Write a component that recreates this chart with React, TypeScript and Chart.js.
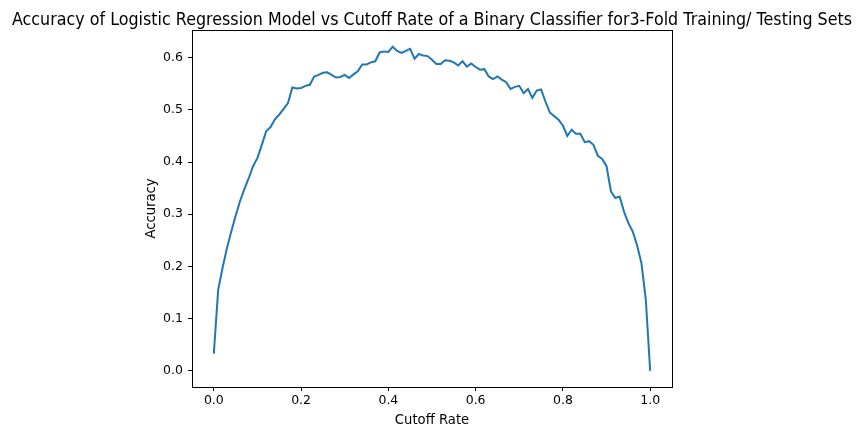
import React, { useEffect, useRef } from "react";
import { Chart, registerables } from "chart.js";
Chart.register(...registerables);

const cutoffRates = [
  0.0, 0.01, 0.02, 0.03, 0.04, 0.05, 0.06, 0.07, 0.08, 0.09,
  0.1, 0.11, 0.12, 0.13, 0.14, 0.15, 0.16, 0.17, 0.18, 0.19,
  0.2, 0.21, 0.22, 0.23, 0.24, 0.25, 0.26, 0.27, 0.28, 0.29,
  0.3, 0.31, 0.32, 0.33, 0.34, 0.35, 0.36, 0.37, 0.38, 0.39,
  0.4, 0.41, 0.42, 0.43, 0.44, 0.45, 0.46, 0.47, 0.48, 0.49,
  0.5, 0.51, 0.52, 0.53, 0.54, 0.55, 0.56, 0.57, 0.58, 0.59,
  0.6, 0.61, 0.62, 0.63, 0.64, 0.65, 0.66, 0.67, 0.68, 0.69,
  0.7, 0.71, 0.72, 0.73, 0.74, 0.75, 0.76, 0.77, 0.78, 0.79,
  0.8, 0.81, 0.82, 0.83, 0.84, 0.85, 0.86, 0.87, 0.88, 0.89,
  0.9, 0.91, 0.92, 0.93, 0.94, 0.95, 0.96, 0.97, 0.98, 0.99, 1.0,
];

const accuracy = [
  0.033, 0.155, 0.197, 0.235, 0.267, 0.297, 0.325, 0.348, 0.369, 0.392,
  0.408, 0.433, 0.459, 0.467, 0.482, 0.491, 0.502, 0.513, 0.543, 0.541,
  0.542, 0.546, 0.548, 0.564, 0.567, 0.571, 0.572, 0.567, 0.562, 0.563,
  0.567, 0.561, 0.568, 0.574, 0.587, 0.587, 0.591, 0.593, 0.610, 0.612,
  0.611, 0.621, 0.613, 0.609, 0.613, 0.617, 0.598, 0.607, 0.604, 0.603,
  0.596, 0.588, 0.588, 0.595, 0.594, 0.591, 0.585, 0.593, 0.583, 0.589,
  0.582, 0.577, 0.578, 0.564, 0.559, 0.564, 0.558, 0.553, 0.540, 0.544,
  0.546, 0.532, 0.540, 0.523, 0.537, 0.539, 0.516, 0.495, 0.488, 0.481,
  0.470, 0.450, 0.462, 0.454, 0.454, 0.438, 0.440, 0.433, 0.412, 0.406,
  0.392, 0.344, 0.331, 0.334, 0.305, 0.283, 0.267, 0.240, 0.206, 0.136, 0.0,
];

const xTicks = [0, 0.2, 0.4, 0.6, 0.8, 1.0];
const yTicks = [0, 0.1, 0.2, 0.3, 0.4, 0.5, 0.6];

const titleText =
  "Accuracy of Logistic Regression Model vs Cutoff Rate of a Binary Classifier for3-Fold Training/ Testing Sets";
const xLabel = "Cutoff Rate";
const yLabel = "Accuracy";

const FONT = "'DejaVu Sans', sans-serif";

const textPlugin = {
  id: "mplText",
  afterDraw(chart: any) {
    const { ctx, chartArea } = chart;
    const { left, right, top, bottom } = chartArea;
    ctx.save();
    ctx.strokeStyle = "#000";
    ctx.lineWidth = 1;
    ctx.strokeRect(Math.round(left) + 0.5, Math.round(top) + 0.5, Math.round(right - left), Math.round(bottom - top));
    ctx.fillStyle = "#000";
    ctx.font = `17px ${FONT}`;
    ctx.textAlign = "center";
    ctx.textBaseline = "alphabetic";
    const w = ctx.measureText(titleText).width;
    const sx = Math.min(1, 840 / w);
    ctx.save();
    ctx.translate((left + right) / 2, 25);
    ctx.scale(sx, 1);
    ctx.fillText(titleText, 0, 0);
    ctx.restore();
    ctx.font = `13.2px ${FONT}`;
    ctx.fillText(xLabel, (left + right) / 2, 424);
    ctx.translate(155, (top + bottom) / 2);
    ctx.rotate(-Math.PI / 2);
    ctx.fillText(yLabel, 0, 0);
    ctx.restore();
  },
};

export default function App() {
  const ref = useRef<HTMLCanvasElement | null>(null);
  useEffect(() => {
    document.body.style.margin = "0";
    const canvas = ref.current;
    if (!canvas) return;
    const chart = new Chart(canvas, {
      type: "line",
      data: {
        datasets: [
          {
            data: cutoffRates.map((x, i) => ({ x, y: accuracy[i] })),
            borderColor: "#1f77b4",
            borderWidth: 2,
            pointRadius: 0,
            tension: 0,
            fill: false,
          },
        ],
      },
      options: {
        responsive: false,
        animation: false,
        devicePixelRatio: 1,
        layout: { padding: { top: 30, right: 192, left: 0, bottom: 0 } },
        plugins: {
          legend: { display: false },
          title: { display: false },
          tooltip: { enabled: false },
        },
        scales: {
          x: {
            type: "linear",
            min: -0.05,
            max: 1.05,
            afterBuildTicks: (s: any) => {
              s.ticks = xTicks.map((v) => ({ value: v }));
            },
            afterFit: (s: any) => {
              s.height = 53;
            },
            ticks: {
              color: "#000",
              font: { family: FONT, size: 12.5 },
              padding: 2,
              maxRotation: 0,
              callback: (v: any) => Number(v).toFixed(1),
            },
            grid: {
              drawOnChartArea: false,
              drawTicks: true,
              tickLength: 4,
              tickColor: "#000",
            },
            border: { display: true, color: "#000" },
          },
          y: {
            type: "linear",
            min: -0.031,
            max: 0.653,
            afterBuildTicks: (s: any) => {
              s.ticks = yTicks.map((v) => ({ value: v }));
            },
            afterFit: (s: any) => {
              s.width = 192;
            },
            ticks: {
              color: "#000",
              font: { family: FONT, size: 12.5 },
              padding: 5,
              callback: (v: any) => Number(v).toFixed(1),
            },
            grid: {
              drawOnChartArea: false,
              drawTicks: true,
              tickLength: 4,
              tickColor: "#000",
            },
            border: { display: true, color: "#000" },
          },
        },
      },
      plugins: [textPlugin],
    } as any);
    return () => chart.destroy();
  }, []);
  return (
    <div style={{ position: "absolute", left: 0, top: 0, width: 864, height: 440, background: "#fff" }}>
      <canvas ref={ref} width={864} height={440} style={{ width: 864, height: 440 }} />
    </div>
  );
}
